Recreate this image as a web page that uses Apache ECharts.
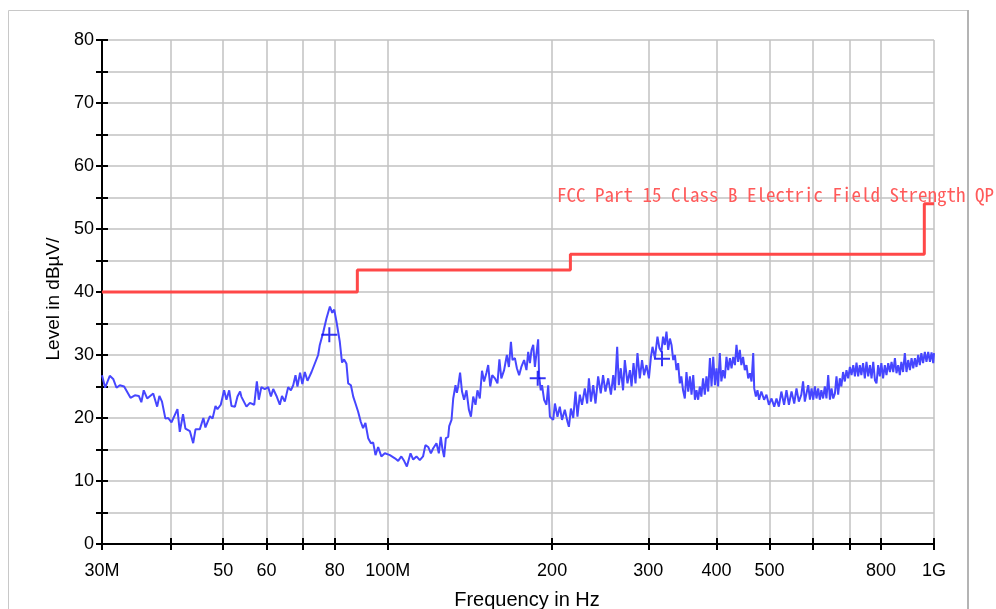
<!DOCTYPE html>
<html>
<head>
<meta charset="utf-8">
<script src="https://cdn.jsdelivr.net/npm/echarts@6.0.0/dist/echarts.min.js"></script>
<style>html,body{margin:0;padding:0;background:#fff}#c{width:996px;height:609px}</style>
</head>
<body>
<div id="c"></div>
<script>
// ---- data (frequency in MHz, level in dBµV/m) ----
const freqMHz = [
30.0,30.4,31.0,31.45,31.89,32.34,32.93,33.83,34.46,35.04,35.41,35.77,36.29,37.23,37.85,38.21,38.63,39.19,39.65,40.21,
41.23,41.64,42.21,42.64,43.45,44.06,44.49,45.30,45.99,46.39,47.28,47.80,48.40,48.80,49.49,50.19,50.69,51.28,51.78,52.53,
53.10,53.69,
53.97,55.15,55.96,56.98,57.62,58.10,58.72,59.58,60.44,61.14,61.73,62.59,63.47,64.06,64.82,65.75,66.51,67.16,67.81,68.37,
69.13,69.79,70.52,71.32,72.55,74.60,75.12,76.16,77.26,78.39,79.16,79.83,80.60,81.73,82.50,83.22,84.06,84.67,85.65,86.49,
87.32,88.30,89.28,90.15,91.05,92.12,93.19,94.09,95.00,96.07,
97.37,98.81,100.95,103.10,104.52,105.93,107.17,108.43,110.11,111.37,112.91,114.50,116.08,117.25,118.63,119.99,121.17,122.84,124.06,125.08,
125.91,126.85,127.79,129.06,129.61,130.88,131.82,133.10,133.87,134.59,135.69,136.80,138.00,139.39,140.83,142.03,143.42,144.80,146.00,147.45,
148.83,150.14,151.65,152.76,154.07,155.38,157.14,158.85,160.15,161.46,163.35,165.27,166.69,168.12,169.25,170.96,172.39,174.03,
175.66,177.71,179.49,180.81,182.13,183.37,184.69,186.00,187.24,188.56,189.34,190.65,191.66,193.34,195.28,196.71,198.14,199.49,200.93,202.36,
204.55,206.57,208.51,210.99,213.37,214.65,216.49,218.60,220.71,222.54,224.74,226.85,229.54,231.84,233.53,235.53,237.82,240.12,242.81,245.50,
247.89,250.38,253.31,256.24,258.74,260.58,263.08,264.93,267.10,269.69,271.69,274.76,277.60,279.49,281.85,284.21,286.57,289.41,292.12,294.69,
297.65,300.73,303.30,305.35,308.44,311.78,314.35,
316.91,319.21,321.59,323.82,326.20,328.58,330.81,333.19,335.56,337.80,340.18,342.55,344.79,347.29,349.87,352.30,354.89,357.47,359.91,362.49,
365.08,367.51,370.09,372.68,375.11,377.83,380.64,383.29,386.10,388.91,391.56,394.37,397.18,399.83,402.64,405.46,408.10,411.06,414.12,417.00,
420.06,423.12,426.00,429.06,432.12,435.00,438.06,441.12,444.00,447.21,450.54,453.67,457.00,460.33,463.46,466.79,468.75,472.08,475.21,478.54,
483.04,488.68,493.58,498.69,504.23,509.98,514.88,519.99,525.53,531.65,536.98,542.55,548.57,554.83,560.16,565.72,
568.04,571.75,575.89,580.18,584.21,588.50,592.78,596.82,601.11,605.39,609.43,613.71,618.00,622.03,626.54,631.20,635.59,640.26,644.92,649.31,
653.97,658.64,663.02,667.69,672.35,676.74,681.65,686.72,691.49,696.57,701.64,706.42,711.49,716.56,721.34,726.41,731.48,736.26,741.60,747.12,
752.31,757.83,763.35,768.55,774.07,779.59,784.78,790.30,795.82,801.01,806.82,812.82,818.48,824.48,830.49,836.14,842.14,848.15,853.80,859.81,
865.81,871.46,877.78,884.31,890.46,896.99,903.53,909.68,916.21,922.74,928.90,935.43,941.96,948.11,954.98,962.09,968.78,975.89,982.99,989.68,
996.79,1000
];
const levelDb = [
26.8,24.8,26.7,26.2,24.8,25.2,25.0,23.2,23.6,23.5,22.5,24.4,23.1,23.9,21.8,23.5,22.6,19.9,20.0,19.3,
21.4,17.8,20.6,18.3,17.9,16.0,18.2,18.2,20.0,18.5,20.3,19.9,21.9,21.4,22.1,24.4,22.9,24.4,21.9,21.8,
23.4,24.2,
23.4,21.8,22.4,22.1,25.8,22.9,24.9,24.6,24.9,23.4,24.6,23.5,22.1,23.5,22.6,24.9,24.4,25.2,26.8,25.0,
27.2,25.4,27.3,25.9,27.3,30.0,31.6,33.5,35.8,37.7,36.7,37.2,35.3,32.1,28.8,29.3,28.6,25.5,25.2,23.4,
22.3,21.0,19.4,18.4,19.2,16.8,16.0,16.1,14.1,15.4,
13.9,14.4,14.1,13.6,13.2,13.9,13.2,12.3,14.4,13.4,13.9,13.3,13.9,15.7,15.4,14.4,15.2,16.0,14.4,17.0,
15.2,13.8,16.8,17.0,18.7,19.7,23.1,25.2,24.0,25.0,27.2,24.2,22.9,24.4,21.3,20.2,23.4,22.1,24.4,23.1,
27.5,25.8,27.2,28.4,25.0,26.8,26.3,25.5,29.3,26.3,27.6,30.0,28.1,32.1,29.2,29.5,27.9,26.8,
28.1,29.2,27.6,30.5,28.7,30.8,31.6,28.1,27.9,32.5,26.6,24.4,25.2,22.9,22.1,25.2,20.2,20.5,19.7,22.3,
20.2,21.8,19.7,21.3,19.4,18.6,21.5,20.0,24.2,20.2,23.7,22.1,24.7,22.3,26.3,22.6,25.2,22.3,26.6,23.9,
26.8,24.2,26.3,23.7,26.8,24.4,31.3,25.2,27.9,24.4,29.2,25.5,27.6,25.0,28.7,25.5,30.3,26.3,29.2,26.8,
28.4,26.3,29.7,31.3,29.5,32.9,31.1,
30.5,32.9,31.6,33.7,30.8,32.6,31.6,29.2,30.0,27.6,28.7,25.5,26.6,24.4,23.1,27.3,24.2,26.6,23.7,26.8,
22.9,24.4,22.9,25.0,23.4,26.3,23.7,26.6,24.2,29.5,25.0,29.7,25.2,27.9,25.0,30.3,25.8,27.6,26.3,29.7,
27.6,29.5,27.9,29.7,28.4,31.6,28.9,30.8,28.4,29.7,27.6,28.4,26.3,27.1,25.8,30.3,24.7,23.4,24.4,22.9,
24.2,22.9,23.7,22.1,23.1,21.8,23.1,21.8,24.2,22.1,24.4,22.1,24.2,22.3,24.7,22.6,
22.3,23.7,25.8,22.6,23.9,25.2,22.9,24.7,22.9,25.0,23.1,24.7,22.9,24.4,23.1,25.0,23.1,26.8,22.9,24.7,
23.1,23.9,26.6,23.7,26.3,25.0,27.3,25.8,27.6,26.3,28.1,26.8,28.4,26.6,28.8,26.6,28.4,26.8,28.7,26.3,
28.9,26.6,28.4,26.3,28.9,26.0,25.5,28.4,26.6,28.7,26.3,28.4,26.8,28.7,27.3,28.9,27.3,29.5,27.1,28.4,
26.8,28.9,27.3,30.3,27.3,29.2,27.6,29.5,27.9,29.5,28.1,30.0,28.4,30.3,28.7,30.5,28.9,30.5,28.9,30.4,
28.7,30.3
];
const limitFreqMHz = [30, 88, 88, 216, 216, 960, 960, 1000];
const limitDb = [40, 40, 43.5, 43.5, 46, 46, 54, 54];
const markerFreqMHz = [78.2, 188.2, 317.8];
const markerDb = [33.2, 26.3, 29.4];
const xTickMHz = [30, 40, 50, 60, 70, 80, 100, 200, 300, 400, 500, 600, 700, 800, 1000];
const xLabelMHz = [30, 50, 60, 80, 100, 200, 300, 400, 500, 800, 1000];
const xLabelText = ['30M', '50', '60', '80', '100M', '200', '300', '400', '500', '800', '1G'];
const yMin = 0, yMax = 80, yTickStep = 5, yLabelStep = 10;
const limitName = 'FCC Part 15 Class B Electric Field Strength QP';
const xName = 'Frequency in Hz';
const yName = 'Level in dBµV/';

// ---- build ----
const LOG = Math.log10;
const trace = freqMHz.map((f, i) => [LOG(f), levelDb[i]]);
const limit = limitFreqMHz.map((f, i) => [LOG(f), limitDb[i]]);
const markers = markerFreqMHz.map((f, i) => [LOG(f), markerDb[i]]);
const xMin = LOG(xTickMHz[0]), xMax = LOG(xTickMHz[xTickMHz.length - 1]);
const tickVals = xTickMHz.map(LOG);
const labelVals = xLabelMHz.map(LOG);
function xLabel(v) {
  for (let i = 0; i < labelVals.length; i++) if (Math.abs(labelVals[i] - v) < 1e-6) return xLabelText[i];
  return '';
}
const FONT = 'Liberation Sans, Arial, sans-serif';
const tickStyle = {color: '#000', width: 2};

const chart = echarts.init(document.getElementById('c'));
chart.setOption({
  animation: false,
  backgroundColor: '#fff',
  grid: {left: 102, right: 62, top: 40, bottom: 65, containLabel: false, outerBoundsMode: 'none'},
  xAxis: [{
    type: 'value', min: xMin, max: xMax,
    axisLine: {show: true, onZero: false, lineStyle: {color: '#000', width: 2}},
    axisTick: {show: true, inside: false, length: 6, customValues: tickVals, lineStyle: tickStyle},
    axisLabel: {customValues: labelVals, formatter: xLabel, margin: 18, color: '#000', fontSize: 18, fontFamily: FONT},
    splitLine: {show: true, lineStyle: {color: '#c2c2c2', width: 1.5}},
    name: xName, nameLocation: 'middle', nameGap: 46,
    nameTextStyle: {color: '#000', fontSize: 20, fontFamily: FONT, padding: [0, 0, 0, 18]}
  }, {
    type: 'value', min: xMin, max: xMax, position: 'bottom',
    axisLine: {show: false},
    axisTick: {show: true, inside: true, length: 6, customValues: tickVals, lineStyle: tickStyle},
    axisLabel: {show: false}, splitLine: {show: false}
  }],
  yAxis: [{
    type: 'value', min: yMin, max: yMax, interval: yTickStep, position: 'left',
    axisLine: {show: true, lineStyle: {color: '#000', width: 2}},
    axisTick: {show: true, inside: false, length: 6, lineStyle: tickStyle},
    axisLabel: {formatter: v => (v % yLabelStep === 0 ? String(v) : ''), margin: 8, color: '#000',
      fontSize: 18, fontFamily: FONT, padding: [10, 0, 0, 0]},
    splitLine: {show: true, lineStyle: {color: '#c2c2c2', width: 1.5}},
    name: yName, nameLocation: 'middle', nameGap: 38,
    nameTextStyle: {color: '#000', fontSize: 19, fontFamily: FONT, padding: [0, 14, 0, 0]}
  }, {
    type: 'value', min: yMin, max: yMax, interval: yTickStep, position: 'left', offset: 0,
    axisLine: {show: false},
    axisTick: {show: true, inside: true, length: 6, lineStyle: tickStyle},
    axisLabel: {show: false}, splitLine: {show: false}
  }],
  series: [{
    name: limitName, type: 'line', data: limit, showSymbol: false, symbol: 'none',
    lineStyle: {color: '#ff4848', width: 3}, z: 3
  }, {
    name: 'Level', type: 'line', data: trace, showSymbol: false, symbol: 'none',
    lineStyle: {color: '#4646ff', width: 2}, z: 4
  }, {
    name: 'Markers', type: 'scatter', data: markers,
    symbol: 'path://M0,6.5H16V8.5H0Z M7,0H9V15H7Z', symbolSize: [16, 15],
    itemStyle: {color: '#0000f0'}, z: 5
  }],
  graphic: [{
    type: 'rect', silent: true, z: -10,
    shape: {x: 8.5, y: 10.5, width: 959, height: 700},
    style: {fill: 'none', stroke: '#c8c8c8', lineWidth: 1}
  }, {
    type: 'line', silent: true, z: -10,
    shape: {x1: 968, y1: 10, x2: 968, y2: 609},
    style: {stroke: '#b4b4b4', lineWidth: 2}
  }, {
    type: 'text', silent: true, z: 10, left: 557, top: 185,
    style: {text: limitName, fill: '#ff5a5a', font: '19px "Noto Sans Mono CJK SC", "DejaVu Sans Mono", monospace'}
  }]
});
</script>
</body>
</html>
